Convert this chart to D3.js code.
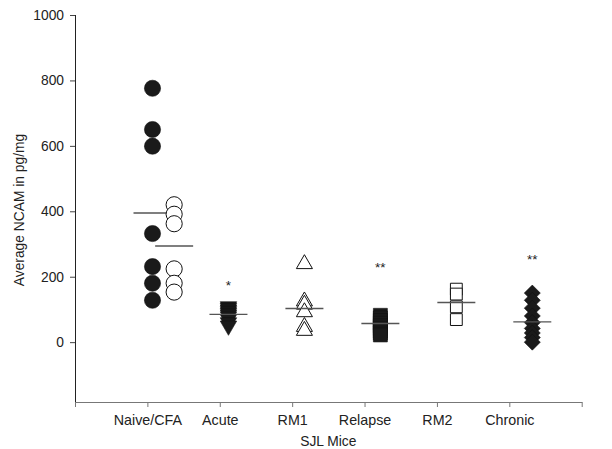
<!DOCTYPE html>
<html>
<head>
<meta charset="utf-8">
<script src="https://cdn.jsdelivr.net/npm/d3@7"></script>
<style>
  html, body { margin: 0; padding: 0; background: #fff; }
  svg { display: block; font-family: "Liberation Sans", Arial, sans-serif; }
</style>
</head>
<body>
<svg id="chart" width="612" height="449"></svg>
<script>
// Categories along the x axis
const categories = ["Naive/CFA", "Acute", "RM1", "Relapse", "RM2", "Chronic"];
const yTicks = [0, 200, 400, 600, 800, 1000];

// Individual animals, NCAM in pg/mg
const naiveValues   = [776, 650, 599, 332, 231, 180, 128];
const cfaValues     = [420, 391, 362, 224, 180, 153];
const acuteValues   = [109, 104, 99, 94, 89, 84, 78, 70, 60, 50];
const rm1Values     = [239, 125, 115, 92, 47, 35];
const relapseValues = [82, 74, 66, 58, 50, 42, 34, 28, 22];
const rm2Values     = [162, 147, 108, 69];
const chronicValues = [150, 128, 104, 80, 60, 42, 28, 14, 0];

// Group means (horizontal bars), in series order
const seriesNames = ["Naive", "CFA", "Acute", "RM1", "Relapse", "RM2", "Chronic"];
const seriesCategory = [0, 0, 1, 2, 3, 4, 5];
const seriesMeans = [395, 294, 85, 103, 57, 121, 62];

// Significance markers and the level they are printed at
const sigLabels = ["", "*", "", "**", "", "**"];
const sigLevels = [null, 182, null, 238, null, 263];

const seriesValues = [naiveValues, cfaValues, acuteValues, rm1Values, relapseValues, rm2Values, chronicValues];

// Marker style per series
const styles = {
  Naive:   { type: d3.symbolCircle,   size: 205, fill: "#1a1a1a", rotate: 0,   dodge: 0 },
  CFA:     { type: d3.symbolCircle,   size: 205, fill: "#fff",    rotate: 0,   dodge: 0.285 },
  Acute:   { type: d3.symbolTriangle, size: 118, fill: "#1a1a1a", rotate: 180, dodge: 0 },
  RM1:     { type: d3.symbolTriangle, size: 112, fill: "#fff",    rotate: 0,   dodge: 0 },
  Relapse: { type: d3.symbolSquare,   size: 196, fill: "#1a1a1a", rotate: 0,   dodge: 0 },
  RM2:     { type: d3.symbolSquare,   size: 140, fill: "#fff",    rotate: 0,   dodge: 0 },
  Chronic: { type: d3.symbolSquare,   size: 128, fill: "#1a1a1a", rotate: 45,  dodge: 0 }
};

const svg = d3.select("#chart");

const y = d3.scaleLinear().domain([-186, 1000]).range([403, 15]);
// Axis scale: categories sit at 1..6 with empty ends at 0 and 7
const xAxisScale = d3.scaleLinear().domain([0, 7]).range([75, 581.7]);
// Scatter columns are laid out on their own scale
const xMark = d3.scaleLinear().domain([0, 5]).range([152.5, 532.3]);

// Y axis
const yAxis = svg.append("g")
  .attr("transform", "translate(75,0)")
  .call(d3.axisLeft(y).tickValues(yTicks).tickFormat(d3.format("d"))
    .tickSize(5).tickSizeOuter(0).tickPadding(6));
yAxis.select(".domain").attr("stroke", "#222").attr("d", `M0.5,${y(1000)}V${y(-186)}`);
yAxis.selectAll(".tick line").attr("stroke", "#444");
yAxis.selectAll(".tick text").attr("font-size", "13.8px").attr("fill", "#222")
  .attr("font-family", "Liberation Sans, Arial, sans-serif");

// X axis
const xAxis = svg.append("g")
  .attr("transform", "translate(0,402)")
  .call(d3.axisBottom(xAxisScale).tickValues(d3.range(0, 8)).tickSize(5).tickSizeOuter(0).tickPadding(8)
    .tickFormat(i => (i >= 1 && i <= 6) ? categories[i - 1] : ""));
xAxis.select(".domain").attr("stroke", "#777");
xAxis.selectAll(".tick line").attr("stroke", "#777");
xAxis.selectAll(".tick text").attr("font-size", "14.3px").attr("fill", "#222")
  .attr("font-family", "Liberation Sans, Arial, sans-serif");

// Axis titles
svg.append("text")
  .attr("transform", `translate(24,${(y(1000) + y(-186)) / 2 + 1}) rotate(-90)`)
  .attr("text-anchor", "middle")
  .attr("font-size", "13.8px").attr("fill", "#222")
  .text("Average NCAM in pg/mg");

svg.append("text")
  .attr("x", (xAxisScale(0) + xAxisScale(7)) / 2)
  .attr("y", 446)
  .attr("text-anchor", "middle")
  .attr("font-size", "13.8px").attr("fill", "#222")
  .text("SJL Mice");

// Points and mean bars, one series at a time
const meanHalf = 19;
seriesNames.forEach((name, si) => {
  const st = styles[name];
  const cx = xMark(seriesCategory[si] + st.dodge);
  const g = svg.append("g").attr("class", "series-" + name);
  g.selectAll("path")
    .data(seriesValues[si])
    .join("path")
    .attr("d", d3.symbol().type(st.type).size(st.size))
    .attr("transform", d => `translate(${cx},${y(d)}) rotate(${st.rotate})`)
    .attr("fill", st.fill)
    .attr("stroke", "#111")
    .attr("stroke-width", st.fill === "#fff" ? 1 : 0.6);
  g.append("line")
    .attr("x1", cx - meanHalf).attr("x2", cx + meanHalf)
    .attr("y1", y(seriesMeans[si])).attr("y2", y(seriesMeans[si]))
    .attr("stroke", "#555").attr("stroke-width", 1.4);
});

// Significance stars
svg.append("g").selectAll("text")
  .data(categories.map((c, i) => ({ i, label: sigLabels[i], level: sigLevels[i] })).filter(d => d.label))
  .join("text")
  .attr("x", d => xMark(d.i))
  .attr("y", d => y(d.level) + 7.5)
  .attr("text-anchor", "middle")
  .attr("font-size", "13.5px").attr("fill", "#222")
  .text(d => d.label);
</script>
</body>
</html>
